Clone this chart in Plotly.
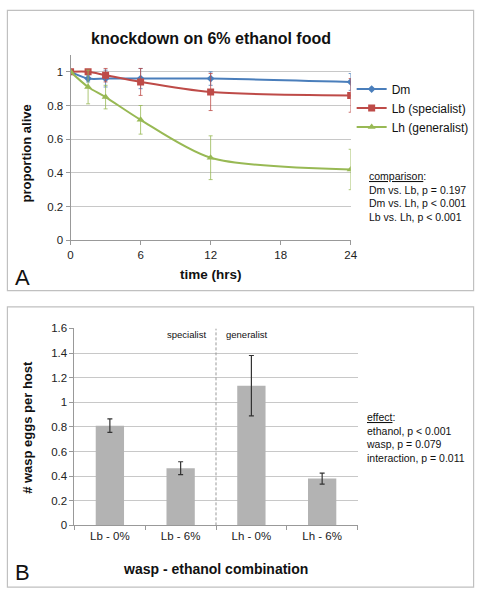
import plotly.graph_objects as go

W, H = 485, 599

# ---- Panel A data ----
time_hrs = [0, 1.5, 3, 6, 12, 24]
dm_alive = [1.0, 0.96, 0.96, 0.96, 0.96, 0.94]
dm_err = [0.0, 0.02, 0.05, 0.06, 0.04, 0.05]
lb_alive = [1.0, 1.0, 0.98, 0.94, 0.88, 0.86]
lb_err = [0.0, 0.0, 0.04, 0.08, 0.11, 0.10]
lh_alive = [1.0, 0.91, 0.85, 0.715, 0.49, 0.42]
lh_err = [0.0, 0.10, 0.07, 0.085, 0.13, 0.12]
series_names = ["Dm", "Lb (specialist)", "Lh (generalist)"]

# ---- Panel B data ----
combos = ["Lb - 0%", "Lb - 6%", "Lh - 0%", "Lh - 6%"]
eggs = [0.81, 0.465, 1.135, 0.38]
eggs_err = [0.055, 0.052, 0.245, 0.045]

FONT = "Liberation Sans, Arial, sans-serif"
blue, red, green = "#4a7ebb", "#be4b48", "#98b954"

def px(x):
    return x / W

def py(y):
    return 1 - y / H

fig = go.Figure()

for name, ys, es, col, sym, sz in [
    (series_names[0], dm_alive, dm_err, blue, "diamond", 6),
    (series_names[1], lb_alive, lb_err, red, "square", 7),
    (series_names[2], lh_alive, lh_err, green, "triangle-up", 7),
]:
    fig.add_trace(go.Scatter(
        x=time_hrs, y=ys, name=name, mode="lines+markers",
        line=dict(color=col, width=2, shape="spline", smoothing=0.8),
        marker=dict(symbol=sym, size=sz, color=col),
        error_y=dict(type="data", array=es, visible=True, color=col,
                     thickness=0.8, width=2),
        xaxis="x", yaxis="y",
    ))

fig.add_trace(go.Bar(
    x=combos, y=eggs, width=0.4, marker=dict(color="#b3b3b3", line=dict(width=0)),
    error_y=dict(type="data", array=eggs_err, visible=True, color="#333333",
                 thickness=1.2, width=2.5),
    xaxis="x2", yaxis="y2", showlegend=False,
))

axis_common = dict(
    showline=True, linecolor="#999999", linewidth=1,
    tickfont=dict(family=FONT, size=11.5, color="#222"),
    ticks="outside", ticklen=4, tickcolor="#999999",
    zeroline=False,
)

fig.update_layout(
    width=W, height=H,
    margin=dict(l=0, r=0, t=0, b=0),
    paper_bgcolor="white", plot_bgcolor="white",
    font=dict(family=FONT, color="#111"),
    xaxis=dict(domain=[px(69), px(355)], range=[0, 24], tickvals=[0, 6, 12, 18, 24],
               showgrid=False, anchor="y", **axis_common),
    yaxis=dict(domain=[py(239), py(50)], range=[0, 1.1], tickvals=[0, 0.2, 0.4, 0.6, 0.8, 1],
               showgrid=True, gridcolor="#c8c8c8", gridwidth=1, anchor="x", **axis_common),
    xaxis2=dict(domain=[px(73), px(362)], type="category", range=[-0.5, 3.5],
                tickson="boundaries", showgrid=False, anchor="y2", **axis_common),
    yaxis2=dict(domain=[py(530), py(329)], range=[0, 1.6], dtick=0.2,
                showgrid=True, gridcolor="#c8c8c8", gridwidth=1, anchor="x2", **axis_common),
    legend=dict(x=px(356), y=py(70), xanchor="left", yanchor="top",
                font=dict(family=FONT, size=12, color="#111"),
                bgcolor="rgba(0,0,0,0)", itemwidth=30, tracegroupgap=0),
)

# Panel borders
fig.add_shape(type="rect", xref="paper", yref="paper", x0=px(4.5), x1=px(480.5),
              y0=py(290.5), y1=py(4.5), line=dict(color="#c0c0c0", width=1.2))
fig.add_shape(type="rect", xref="paper", yref="paper", x0=px(4.5), x1=px(480.5),
              y0=py(593), y1=py(307), line=dict(color="#c0c0c0", width=1.2))

# Dashed separator in panel B
fig.add_shape(type="line", xref="x2", yref="y2", x0=1.5, x1=1.5, y0=0, y1=1.6,
              line=dict(color="#999999", width=1, dash="3px,2px"))

def ann(text, x, y, size, bold=False, angle=0, xanchor="center", align="center"):
    fig.add_annotation(
        text=f"<b>{text}</b>" if bold else text, xref="paper", yref="paper",
        x=px(x), y=py(y), showarrow=False, textangle=angle,
        xanchor=xanchor, yanchor="middle", align=align,
        font=dict(family=FONT, size=size, color="#111"),
    )

ann("knockdown on 6% ethanol food", 212, 33, 16, bold=True)
ann("proportion alive", 25, 150, 13, bold=True, angle=-90)
ann("time (hrs)", 212, 274, 13.5, bold=True)
ann("A", 20, 277, 22)
ann("<u>comparison</u>:<br>Dm vs. Lb, p = 0.197<br>Dm vs. Lh, p &lt; 0.001<br>Lb vs. Lh, p &lt; 0.001",
    372, 194, 10.5, xanchor="left", align="left")

ann("# wasp eggs per host", 25, 430, 13, bold=True, angle=-90)
ann("wasp - ethanol combination", 217, 574, 14, bold=True)
ann("B", 20, 578, 22)
ann("specialist", 187, 335, 9.5)
ann("generalist", 249, 335, 9.5)
ann("<u>effect</u>:<br>ethanol, p &lt; 0.001<br>wasp, p = 0.079<br>interaction, p = 0.011",
    369, 440, 10.5, xanchor="left", align="left")

fig.write_html("out.html", config={"displayModeBar": False},
               post_script="document.body.style.margin='0';")
